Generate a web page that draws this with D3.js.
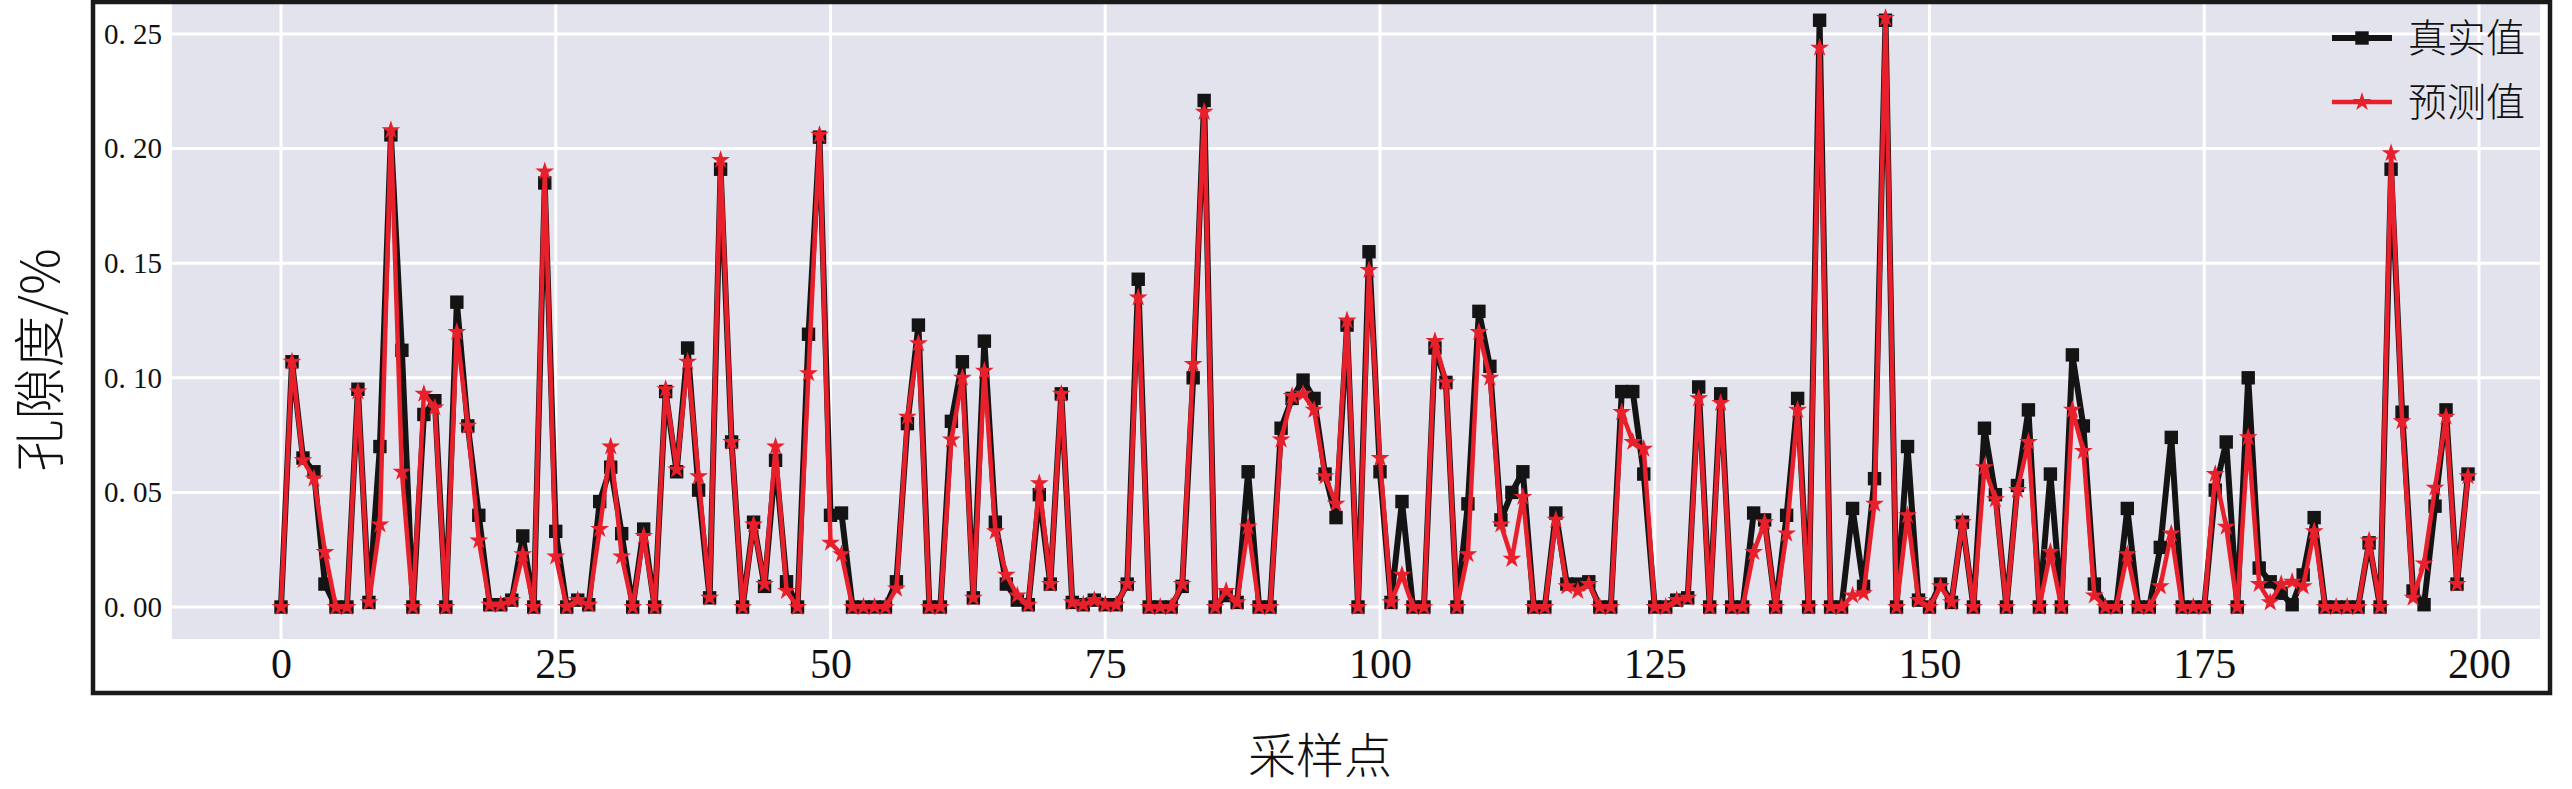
<!DOCTYPE html>
<html>
<head>
<meta charset="utf-8">
<script src="https://cdn.jsdelivr.net/npm/d3@7/dist/d3.min.js"></script>
<style>
  html, body { margin: 0; padding: 0; background: #fff; }
  svg { display: block; }
</style>
</head>
<body>
<svg id="chart" width="2572" height="789"></svg>
<script>
// ---- data ----
const seriesNames = ["真实值", "预测值"];
const xTickValues = [0, 25, 50, 75, 100, 125, 150, 175, 200];
const yTickValues = [0, 0.05, 0.10, 0.15, 0.20, 0.25];
const yTickLabels = ["0. 00", "0. 05", "0. 10", "0. 15", "0. 20", "0. 25"];
const xLabel = "采样点";
const yLabel = "孔隙度/%";

const actual = [
  0, 0.107, 0.065, 0.059, 0.010, 0, 0, 0.095, 0.002, 0.070, 0.206, 0.112, 0, 0.084, 0.090, 0, 0.133, 0.079, 0.040, 0.001,
  0.001, 0.003, 0.031, 0, 0.185, 0.033, 0, 0.003, 0.001, 0.046, 0.061, 0.032, 0, 0.034, 0, 0.094, 0.059, 0.113, 0.051, 0.004,
  0.191, 0.072, 0, 0.037, 0.009, 0.064, 0.011, 0, 0.119, 0.205, 0.040, 0.041, 0, 0, 0, 0, 0.011, 0.080, 0.123, 0,
  0, 0.081, 0.107, 0.004, 0.116, 0.037, 0.010, 0.003, 0.001, 0.049, 0.010, 0.093, 0.002, 0.001, 0.003, 0.001, 0.001, 0.010, 0.143, 0,
  0, 0, 0.009, 0.100, 0.221, 0, 0.005, 0.002, 0.059, 0, 0, 0.078, 0.091, 0.099, 0.091, 0.058, 0.039, 0.123, 0, 0.155,
  0.059, 0.002, 0.046, 0, 0, 0.113, 0.098, 0, 0.045, 0.129, 0.105, 0.038, 0.050, 0.059, 0, 0, 0.041, 0.010, 0.010, 0.011,
  0, 0, 0.094, 0.094, 0.058, 0, 0, 0.003, 0.004, 0.096, 0, 0.093, 0, 0, 0.041, 0.038, 0, 0.040, 0.091, 0,
  0.256, 0, 0, 0.043, 0.009, 0.056, 0.256, 0, 0.070, 0.003, 0, 0.010, 0.002, 0.037, 0, 0.078, 0.049, 0, 0.053, 0.086,
  0, 0.058, 0, 0.110, 0.079, 0.010, 0, 0, 0.043, 0, 0, 0.026, 0.074, 0, 0, 0, 0.051, 0.072, 0, 0.100,
  0.017, 0.011, 0.006, 0.001, 0.014, 0.039, 0, 0, 0, 0, 0.028, 0, 0.191, 0.085, 0.007, 0.001, 0.044, 0.086, 0.010, 0.058
];
const predicted = [
  0, 0.107, 0.064, 0.056, 0.024, 0, 0, 0.094, 0.002, 0.036, 0.208, 0.059, 0, 0.093, 0.087, 0, 0.120, 0.079, 0.029, 0.001,
  0.001, 0.003, 0.023, 0, 0.190, 0.022, 0, 0.003, 0.001, 0.034, 0.070, 0.022, 0, 0.031, 0, 0.095, 0.060, 0.107, 0.057, 0.004,
  0.195, 0.072, 0, 0.036, 0.010, 0.070, 0.007, 0, 0.102, 0.206, 0.028, 0.023, 0, 0, 0, 0, 0.008, 0.083, 0.115, 0,
  0, 0.073, 0.100, 0.004, 0.103, 0.033, 0.014, 0.005, 0.001, 0.054, 0.010, 0.093, 0.002, 0.001, 0.003, 0.001, 0.001, 0.010, 0.135, 0,
  0, 0, 0.010, 0.106, 0.216, 0, 0.007, 0.002, 0.035, 0, 0, 0.073, 0.092, 0.093, 0.086, 0.057, 0.045, 0.125, 0, 0.147,
  0.065, 0.002, 0.014, 0, 0, 0.116, 0.098, 0, 0.023, 0.120, 0.100, 0.036, 0.021, 0.048, 0, 0, 0.038, 0.009, 0.007, 0.010,
  0, 0, 0.085, 0.072, 0.069, 0, 0, 0.003, 0.004, 0.091, 0, 0.089, 0, 0, 0.024, 0.037, 0, 0.032, 0.086, 0,
  0.244, 0, 0, 0.005, 0.006, 0.045, 0.257, 0, 0.040, 0.003, 0, 0.009, 0.002, 0.037, 0, 0.061, 0.047, 0, 0.051, 0.072,
  0, 0.024, 0, 0.086, 0.068, 0.005, 0, 0, 0.023, 0, 0, 0.009, 0.032, 0, 0, 0, 0.058, 0.035, 0, 0.074,
  0.010, 0.002, 0.010, 0.011, 0.009, 0.033, 0, 0, 0, 0, 0.029, 0, 0.198, 0.081, 0.004, 0.019, 0.052, 0.083, 0.010, 0.057
];

// ---- layout ----
const svg = d3.select("#chart");
const W = 2572, H = 789;
const plot = { left: 172, right: 2540, top: 4, bottom: 639 };
const x = d3.scaleLinear().domain([0, 200]).range([281, 2479]);
const y = d3.scaleLinear().domain([0, 0.25]).range([607, 34]);
const black = "#141414", red = "#e8202b";

svg.append("rect").attr("width", W).attr("height", H).attr("fill", "#fff");

// plot background
svg.append("rect")
  .attr("x", plot.left).attr("y", plot.top)
  .attr("width", plot.right - plot.left).attr("height", plot.bottom - plot.top)
  .attr("fill", "#e3e3ee");

svg.append("clipPath").attr("id", "clip").append("rect")
  .attr("x", plot.left).attr("y", plot.top)
  .attr("width", plot.right - plot.left).attr("height", plot.bottom - plot.top);

// gridlines
const grid = svg.append("g").attr("clip-path", "url(#clip)");
grid.selectAll("line.gx").data(xTickValues).enter().append("line")
  .attr("x1", d => x(d)).attr("x2", d => x(d))
  .attr("y1", plot.top).attr("y2", plot.bottom)
  .attr("stroke", "#fff").attr("stroke-width", 3);
grid.selectAll("line.gy").data(yTickValues).enter().append("line")
  .attr("y1", d => y(d)).attr("y2", d => y(d))
  .attr("x1", plot.left).attr("x2", plot.right)
  .attr("stroke", "#fff").attr("stroke-width", 3);

// axes (labels only)
const xAxis = d3.axisBottom(x).tickValues(xTickValues).tickSize(0).tickPadding(0);
const gx = svg.append("g").attr("transform", "translate(0,648)").call(xAxis);
gx.select(".domain").remove();
gx.selectAll("text")
  .attr("font-family", "'Liberation Serif', 'DejaVu Serif', serif")
  .attr("font-size", 42).attr("fill", "#111").attr("dy", "0.71em");

const yAxis = d3.axisLeft(y).tickValues(yTickValues).tickSize(0).tickPadding(0)
  .tickFormat((d, i) => yTickLabels[i]);
const gy = svg.append("g").attr("transform", "translate(162,0)").call(yAxis);
gy.select(".domain").remove();
gy.selectAll("text")
  .attr("font-family", "'Liberation Serif', 'DejaVu Serif', serif")
  .attr("font-size", 29).attr("fill", "#111");

// series
const idx = d3.range(actual.length);
const line = vals => d3.line().x(i => x(i)).y(i => y(vals[i]))(idx);
const series = svg.append("g").attr("clip-path", "url(#clip)");

series.append("path").attr("d", line(actual))
  .attr("fill", "none").attr("stroke", black).attr("stroke-width", 6).attr("stroke-linejoin", "round");
series.selectAll("path.sq").data(idx).enter().append("path")
  .attr("d", d3.symbol(d3.symbolSquare, 180)())
  .attr("transform", i => `translate(${x(i)},${y(actual[i])})`)
  .attr("fill", black);

series.append("path").attr("d", line(predicted))
  .attr("fill", "none").attr("stroke", red).attr("stroke-width", 4.5).attr("stroke-linejoin", "round");
series.selectAll("path.st").data(idx).enter().append("path")
  .attr("d", d3.symbol(d3.symbolStar, 110)())
  .attr("transform", i => `translate(${x(i)},${y(predicted[i])})`)
  .attr("fill", red);

// legend
const legend = svg.append("g");
const legRows = [
  { name: seriesNames[0], color: black, sym: d3.symbolSquare, size: 180, lw: 6 },
  { name: seriesNames[1], color: red, sym: d3.symbolStar, size: 110, lw: 4.5 }
];
legRows.forEach((r, k) => {
  const ly = 38 + k * 64;
  legend.append("line").attr("x1", 2332).attr("x2", 2392).attr("y1", ly).attr("y2", ly)
    .attr("stroke", r.color).attr("stroke-width", r.lw);
  legend.append("path").attr("d", d3.symbol(r.sym, r.size)())
    .attr("transform", `translate(2362,${ly})`).attr("fill", r.color);
  legend.append("text").attr("x", 2408).attr("y", ly).attr("dy", "0.36em")
    .attr("font-family", "'Noto Sans CJK SC', sans-serif").attr("font-weight", 300)
    .attr("font-size", 39).attr("fill", "#111").text(r.name);
});

// frame
svg.append("rect").attr("x", 93).attr("y", 2).attr("width", 2550 - 93).attr("height", 693 - 2)
  .attr("fill", "none").attr("stroke", "#1a1a1a").attr("stroke-width", 4.5);

// axis titles
svg.append("text").attr("x", 1320).attr("y", 756).attr("dy", "0.36em")
  .attr("text-anchor", "middle")
  .attr("font-family", "'Noto Sans CJK SC', sans-serif").attr("font-weight", 300)
  .attr("font-size", 48).attr("fill", "#111").text(xLabel);
svg.append("text")
  .attr("transform", "translate(40,360) rotate(-90)")
  .attr("text-anchor", "middle").attr("dy", "0.36em")
  .attr("font-family", "'Noto Sans CJK SC', sans-serif").attr("font-weight", 300)
  .attr("font-size", 52).attr("fill", "#111").text(yLabel);
</script>
</body>
</html>
